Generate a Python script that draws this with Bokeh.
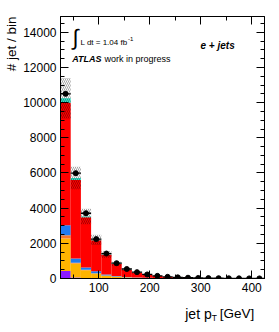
import numpy as np
from bokeh.plotting import figure
from bokeh.layouts import column
from bokeh.models import Range1d, FixedTicker, LinearAxis, Label, Title
from bokeh.core.properties import value
from bokeh.embed import file_html
from bokeh.resources import INLINE

# ---- data ----
bin_edges = [25, 45, 65, 85, 105, 125, 145, 165, 185, 205, 225, 245, 265, 285, 305, 325, 345, 365, 385, 405, 425]
purple = [420, 60, 20, 10, 5, 3, 2, 1, 1, 0, 0, 0, 0, 0, 0, 0, 0, 0, 0, 0]
yellow = [1850, 790, 450, 275, 160, 100, 60, 40, 28, 18, 12, 8, 6, 4, 3, 2, 2, 1, 1, 1]
dorange = [190, 40, 25, 20, 12, 8, 5, 3, 2, 2, 1, 1, 1, 0.5, 0.5, 0.5, 0.3, 0.3, 0.2, 0.2]
blue = [570, 245, 130, 110, 55, 30, 20, 12, 8, 5, 4, 3, 2, 2, 1, 1, 1, 1, 1, 1]
red = [6970, 4465, 2855, 1755, 1118, 689, 403, 264, 176, 115, 73, 48, 31, 21.5, 15.5, 10.5, 6.7, 4.7, 2.8, 1.8]
cyan = [250, 110, 50, 30, 15, 10, 6, 4, 3, 2, 1, 1, 1, 0.5, 0.5, 0.5, 0.3, 0.3, 0.2, 0.2]
mc_err = [1150, 640, 440, 290, 180, 110, 70, 45, 30, 20, 14, 10, 7, 5, 4, 3, 2, 2, 1, 1]
data = [10500, 5990, 3710, 2240, 1420, 870, 540, 360, 230, 150, 95, 65, 45, 30, 22, 16, 12, 8, 6, 5]

x_major = [100, 200, 300, 400]
y_major = [0, 2000, 4000, 6000, 8000, 10000, 12000, 14000]

layers = [purple, yellow, dorange, blue, red, cyan]
colors = ["#8C1AFF", "#FFB400", "#F5782A", "#1E7BF0", "#FF0000", "#33E6CC"]

edges = np.array(bin_edges, dtype=float)
lo, hi = edges[:-1], edges[1:]
ctr = (lo + hi) / 2

F = "Liberation Sans"

p = figure(width=279, height=300, output_backend="svg", toolbar_location=None,
           x_range=Range1d(25, 425), y_range=Range1d(0, 14900),
           min_border_left=55, min_border_right=15, min_border_top=16, min_border_bottom=22)
p.xgrid.visible = False
p.ygrid.visible = False
p.outline_line_color = "black"
p.outline_line_width = 1
p.background_fill_color = "white"

bottom = np.zeros(len(lo))
for vals, col in zip(layers, colors):
    v = np.array(vals, dtype=float)
    p.quad(left=lo, right=hi, bottom=bottom, top=bottom + v, fill_color=col, line_color=None)
    bottom = bottom + v

err = np.array(mc_err, dtype=float)
p.quad(left=lo, right=hi, bottom=bottom - err, top=bottom + err, fill_alpha=0,
       line_color=None, hatch_pattern="\\", hatch_color="black", hatch_alpha=0.5,
       hatch_scale=4, hatch_weight=0.7)

d = np.array(data, dtype=float)
p.segment(x0=lo, x1=hi, y0=d, y1=d, line_color="black", line_width=1.3)
p.segment(x0=ctr, x1=ctr, y0=d - np.sqrt(d), y1=d + np.sqrt(d), line_color="black", line_width=1.3)
p.scatter(x=ctr, y=d, size=5, color="black")

x_minor = list(range(50, 425, 50))
y_minor = list(range(0, 14901, 500))

def style(ax, ticks, show):
    ax.ticker = FixedTicker(ticks=ticks[0], minor_ticks=ticks[1])
    ax.major_tick_in = 8
    ax.major_tick_out = 0
    ax.minor_tick_in = 4
    ax.minor_tick_out = 0
    ax.axis_line_color = "black"
    ax.major_tick_line_color = "black"
    ax.minor_tick_line_color = "black"
    ax.major_label_text_font = F
    if show:
        ax.major_label_text_color = "black"
        ax.major_label_text_font_size = "12px"
        ax.major_label_standoff = 4
    else:
        ax.major_label_text_color = None
        ax.major_label_text_font_size = "1px"
        ax.major_label_standoff = 0

style(p.xaxis[0], (x_major, x_minor), True)
style(p.yaxis[0], (y_major, y_minor), True)
ax_r = LinearAxis()
style(ax_r, (y_major, y_minor), False)
p.add_layout(ax_r, "right")
ax_t = LinearAxis()
style(ax_t, (x_major, x_minor), False)
p.add_layout(ax_t, "above")

# y axis title, aligned at the top end
p.add_layout(Title(text="# jet / bin", align="right", text_font=F, text_font_size="13.5px",
                   text_font_style="normal", text_color="black", standoff=3), "left")

def lab(x, y, t, size, style="normal", align="left", base="alphabetic"):
    p.add_layout(Label(x=x, y=y, x_units="screen", y_units="screen", text=t,
                       text_font=F, text_font_size=size, text_font_style=style,
                       text_align=align, text_baseline=base, text_color="black"))

# annotations (frame-relative pixels)
lab(15, 241, "\u222b", "22px", align="center", base="middle")
lab(20, 236, "L dt = 1.04 fb", "8px")
lab(67.5, 240, "-1", "6px")
lab(11.7, 219.5, "ATLAS", "9px", style="bold italic")
lab(44, 219.5, "work in progress", "9px")
lab(140, 233, "e + jets", "10px", style="bold italic", base="middle")

# x axis title strip: one anchor, parts placed by pixel offsets
s = figure(width=279, height=32, output_backend="svg", toolbar_location=None,
           x_range=Range1d(0, 279), y_range=Range1d(0, 32),
           x_axis_location=None, y_axis_location=None, min_border=0)
s.xgrid.visible = False
s.ygrid.visible = False
s.outline_line_color = None
s.text(x=[265], y=[19], text=["[GeV]"], text_font=value(F), text_font_size="13.5px",
       text_align="right", text_baseline="middle", text_color="black")
s.text(x=[265], y=[19], x_offset=-42.5, y_offset=4.5, text=["T"], text_font=value(F),
       text_font_size="8.5px", text_align="left", text_baseline="middle", text_color="black")
s.text(x=[265], y=[19], x_offset=-69, text=["jet p"], text_font=value(F), text_font_size="14px",
       text_align="left", text_baseline="middle", text_color="black")

layout = column(p, s, spacing=0)
open("out.html", "w").write(file_html(layout, INLINE))
